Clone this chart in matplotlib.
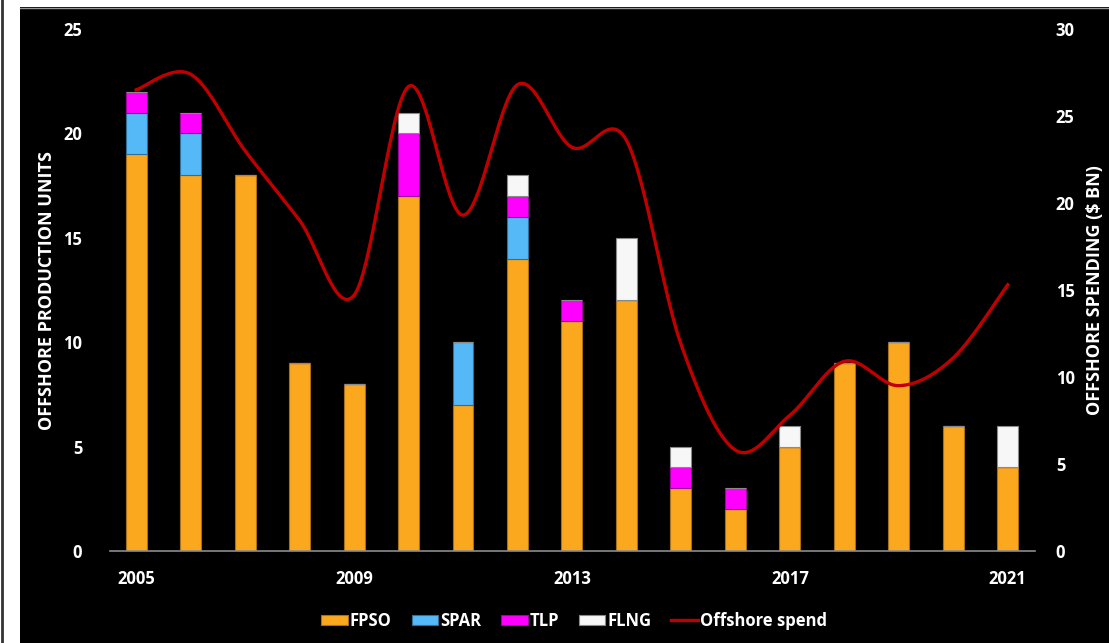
import numpy as np
import matplotlib.pyplot as plt
from matplotlib.patches import Rectangle
from matplotlib.lines import Line2D

years = list(range(2005, 2022))
fpso = [19, 18, 18, 9, 8, 17, 7, 14, 11, 12, 3, 2, 5, 9, 10, 6, 4]
spar = [2, 2, 0, 0, 0, 0, 3, 2, 0, 0, 0, 0, 0, 0, 0, 0, 0]
tlp = [1, 1, 0, 0, 0, 3, 0, 1, 1, 0, 1, 1, 0, 0, 0, 0, 0]
flng = [0, 0, 0, 0, 0, 1, 0, 1, 0, 3, 1, 0, 1, 0, 0, 0, 2]
spend = [26.5, 27.4, 23.0, 19.0, 14.7, 26.7, 19.3, 26.8, 23.2, 23.6,
         11.9, 5.8, 7.8, 10.9, 9.5, 11.1, 15.3]

plt.rcParams['font.family'] = ['Open Sans', 'DejaVu Sans']
plt.rcParams['font.weight'] = 'bold'


def smooth(x, y, n=30):
    # excel-style smoothed line (catmull-rom through the points)
    x = np.asarray(x, float)
    y = np.asarray(y, float)
    px = np.r_[x[0], x, x[-1]]
    py = np.r_[y[0], y, y[-1]]
    xs, ys = [], []
    for i in range(1, len(px) - 2):
        t = np.linspace(0, 1, n)
        for p, out in ((px, xs), (py, ys)):
            p0, p1, p2, p3 = p[i - 1], p[i], p[i + 1], p[i + 2]
            c1 = p1 + (p2 - p0) / 6
            c2 = p2 - (p3 - p1) / 6
            out.extend((1 - t) ** 3 * p1 + 3 * (1 - t) ** 2 * t * c1
                       + 3 * (1 - t) * t ** 2 * c2 + t ** 3 * p2)
    return np.array(xs), np.array(ys)


fig = plt.figure(figsize=(11.09, 6.43), dpi=100)
fig.patch.set_facecolor('black')
fig.patches.append(Rectangle((0, 0), 20 / 1109, 1, transform=fig.transFigure,
                             facecolor='white', edgecolor='none', zorder=-1))
fig.patches.append(Rectangle((0, 1 - 7 / 643), 1, 7 / 643, transform=fig.transFigure,
                             facecolor='white', edgecolor='none', zorder=-1))
fig.lines.append(Line2D([20 / 1109, 1], [1 - 7.5 / 643] * 2, transform=fig.transFigure,
                        color='#999999', lw=1))
fig.lines.append(Line2D([2 / 1109] * 2, [0, 1], transform=fig.transFigure,
                        color='#333333', lw=2))

ax = fig.add_axes([110 / 1109, 92 / 643, 925 / 1109, 522 / 643])
ax.set_facecolor('black')

colors = {'FPSO': '#FBA81E', 'SPAR': '#56B9F7', 'TLP': '#FF00FF', 'FLNG': '#F7F7F7'}
edges = {'FPSO': '#A9701A', 'SPAR': '#2F6F9A', 'TLP': '#A000A0', 'FLNG': '#8A8A8A'}
bottom = np.zeros(len(years))
w = 0.385
for name, vals in (('FPSO', fpso), ('SPAR', spar), ('TLP', tlp), ('FLNG', flng)):
    vals = np.array(vals, float)
    ax.bar(years, vals, w, bottom=bottom, color=colors[name],
           edgecolor=edges[name], linewidth=0.8, label=name, zorder=2)
    bottom += vals

ax.set_xlim(2004.52, 2021.5)
ax.set_ylim(0, 25)
ax.set_yticks(range(0, 26, 5))
ax.set_xticks([2005, 2009, 2013, 2017, 2021])
for s in ('top', 'right', 'left'):
    ax.spines[s].set_visible(False)
ax.spines['bottom'].set_color('#8C8C8C')
ax.spines['bottom'].set_linewidth(1.2)
ax.tick_params(axis='both', length=0, colors='white', labelsize=12)
ax.tick_params(axis='y', pad=20)
ax.tick_params(axis='x', pad=14)
for t in ax.get_xticklabels() + ax.get_yticklabels():
    t.set_fontweight('bold')
ax.set_ylabel('OFFSHORE PRODUCTION UNITS', color='white', fontsize=13,
              fontweight='bold', labelpad=5)

ax2 = ax.twinx()
sx, sy = smooth(years, spend)
ax2.plot(sx, sy, color='#C00000', lw=2.4, label='Offshore spend', zorder=3)
ax2.set_ylim(0, 30)
ax2.set_yticks(range(0, 31, 5))
for s in ax2.spines.values():
    s.set_visible(False)
ax2.tick_params(axis='y', length=0, colors='white', labelsize=12, pad=15)
for t in ax2.get_yticklabels():
    t.set_fontweight('bold')
ax2.set_ylabel('OFFSHORE SPENDING ($ BN)', color='white', fontsize=13,
               fontweight='bold', labelpad=8)

h1, l1 = ax.get_legend_handles_labels()
h2, l2 = ax2.get_legend_handles_labels()
leg = fig.legend(h1 + h2, l1 + l2, loc='center', bbox_to_anchor=(574 / 1109, 22 / 643),
                 ncol=5, frameon=False, prop={'size': 12, 'weight': 'bold'},
                 handlelength=1.6, handleheight=0.6, handletextpad=0.1,
                 columnspacing=1.2)
for t in leg.get_texts():
    t.set_color('white')

fig.savefig('out.png', dpi=100, facecolor=fig.get_facecolor())
